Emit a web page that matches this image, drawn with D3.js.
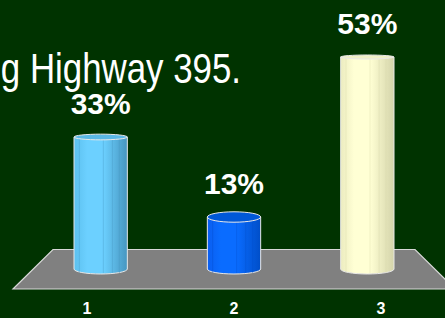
<!DOCTYPE html>
<html>
<head>
<meta charset="utf-8">
<script src="https://cdn.jsdelivr.net/npm/d3@7"></script>
<style>
  html, body { margin: 0; padding: 0; background: #003300; overflow: hidden; }
  svg { display: block; }
</style>
</head>
<body>
<div id="chart"></div>
<script>
// Data
const categories = ["1", "2", "3"];
const values = [33, 13, 53];
const valueLabels = ["33%", "13%", "53%"];
const titleText = "g Highway 395.";

// colours per bar: [left, highlight, right, top]
const barColors = [
    ["#5cc0ee", "#6cd0ff", "#4696c0", "#5ab8e6"],
    ["#0a5ef0", "#0a6cff", "#004ec8", "#0058d8"],
    ["#ececc0", "#ffffd4", "#d4d4aa", "#f0f0c8"]
];

const width = 445, height = 318;
const baseY = 269;

const svg = d3.select("#chart")
    .append("svg")
    .attr("width", width)
    .attr("height", height);

// Scales
const x = d3.scaleBand()
    .domain(categories)
    .range([34, 434])
    .paddingInner(0.6)
    .paddingOuter(0.3);

// front labels sit wider apart (perspective)
const xLabel = d3.scalePoint()
    .domain(categories)
    .range([87, 381]);

const y = d3.scaleLinear()
    .domain([0, 60])
    .range([baseY, baseY - 240]);

// Floor
svg.append("path")
    .attr("d", "M53,249.5 L415,249.5 L455,289 L13,289 Z")
    .attr("fill", "#808080")
    .attr("stroke", "#d8d8d8")
    .attr("stroke-width", 1.2);

// Title (partially off-canvas), narrowed like Arial Narrow
svg.append("text")
    .attr("transform", "translate(241,83) scale(0.83,1)")
    .attr("text-anchor", "end")
    .style("font-family", "'Liberation Sans', Arial, sans-serif")
    .style("font-size", "42px")
    .style("fill", "#ffffff")
    .text(titleText);

// Gradients
const defs = svg.append("defs");
barColors.forEach((c, i) => {
    const g = defs.append("linearGradient")
        .attr("id", "grad" + i)
        .attr("x1", "0%").attr("x2", "100%")
        .attr("y1", "0%").attr("y2", "0%");
    g.append("stop").attr("offset", "0%").attr("stop-color", c[0]);
    g.append("stop").attr("offset", "25%").attr("stop-color", c[1]);
    g.append("stop").attr("offset", "55%").attr("stop-color", c[1]);
    g.append("stop").attr("offset", "100%").attr("stop-color", c[2]);
});

// top ellipse flattening depends on height in view
const topRy = yy => Math.max(2, (yy - 40) / 34);

const bars = svg.selectAll(".bar")
    .data(values)
    .enter()
    .append("g")
    .attr("class", "bar");

bars.append("path")
    .attr("d", (d, i) => {
        const x0 = x(categories[i]);
        const w = x.bandwidth();
        const top = y(d);
        const ry = 5;
        return `M${x0},${top} L${x0},${baseY} A${w / 2},${ry} 0 0 0 ${x0 + w},${baseY} L${x0 + w},${top} Z`;
    })
    .attr("fill", (d, i) => `url(#grad${i})`)
    .attr("stroke", "#e8e8e8")
    .attr("stroke-width", 1);

// vertical facet lines
bars.each(function (d, i) {
    const x0 = x(categories[i]);
    const w = x.bandwidth();
    const g = d3.select(this);
    [0.1, 0.55, 0.72, 0.85].forEach(f => {
        g.append("line")
            .attr("x1", x0 + w * f).attr("x2", x0 + w * f)
            .attr("y1", y(d)).attr("y2", baseY + 4)
            .attr("stroke", barColors[i][2])
            .attr("stroke-opacity", 0.35)
            .attr("stroke-width", 1);
    });
});

bars.append("ellipse")
    .attr("cx", (d, i) => x(categories[i]) + x.bandwidth() / 2)
    .attr("cy", d => y(d))
    .attr("rx", x.bandwidth() / 2)
    .attr("ry", d => topRy(y(d)))
    .attr("fill", (d, i) => barColors[i][3])
    .attr("stroke", "#e8e8e8")
    .attr("stroke-width", 1);

// Value labels
svg.selectAll(".val")
    .data(values)
    .enter()
    .append("text")
    .attr("class", "val")
    .attr("x", (d, i) => x(categories[i]) + x.bandwidth() / 2)
    .attr("y", d => y(d) - 23)
    .attr("text-anchor", "middle")
    .style("font-family", "'Liberation Sans', Arial, sans-serif")
    .style("font-weight", "bold")
    .style("font-size", "30px")
    .style("fill", "#ffffff")
    .text((d, i) => valueLabels[i]);

// Category labels
svg.selectAll(".cat")
    .data(categories)
    .enter()
    .append("text")
    .attr("class", "cat")
    .attr("x", d => xLabel(d))
    .attr("y", 314)
    .attr("text-anchor", "middle")
    .style("font-family", "'Liberation Sans', Arial, sans-serif")
    .style("font-weight", "bold")
    .style("font-size", "16px")
    .style("fill", "#ffffff")
    .text(d => d);
</script>
</body>
</html>
